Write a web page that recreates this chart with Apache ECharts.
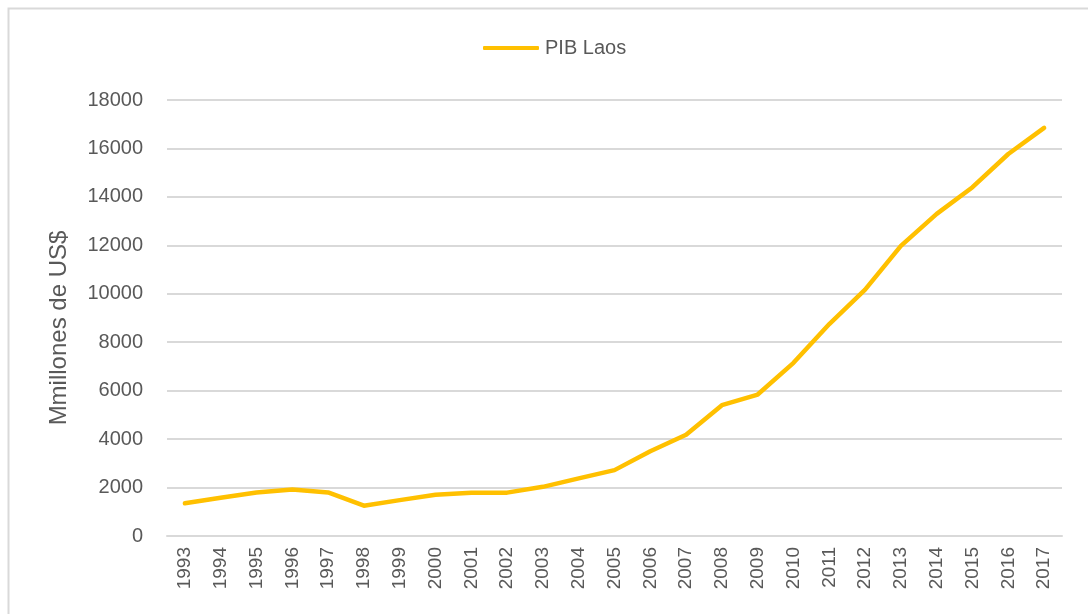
<!DOCTYPE html>
<html>
<head>
<meta charset="utf-8">
<script src="https://cdn.jsdelivr.net/npm/echarts@6/dist/echarts.min.js"></script>
<style>
html,body{margin:0;padding:0;background:#fff;}
#chart{width:1088px;height:614px;}
</style>
</head>
<body>
<div id="chart"></div>
<script>
const years = ['1993','1994','1995','1996','1997','1998','1999','2000','2001','2002','2003','2004','2005','2006','2007','2008','2009','2010','2011','2012','2013','2014','2015','2016','2017'];
const pibLaos = [1350,1580,1800,1920,1800,1250,1480,1700,1790,1790,2030,2380,2720,3500,4180,5400,5840,7150,8750,10170,11980,13300,14400,15770,16850];
const seriesName = 'PIB Laos';
const yAxisName = 'Mmillones de US$';

const FONT = '"Liberation Sans", Arial, sans-serif';
const chart = echarts.init(document.getElementById('chart'), null, {renderer:'canvas'});
chart.setOption({
  backgroundColor:'#ffffff',
  animation:false,
  graphic:[{
    type:'rect', left:6, top:6, silent:true,
    shape:{width:1100,height:700},
    style:{fill:'none', stroke:'#d9d9d9', lineWidth:2}
  }],
  legend:{
    data:[seriesName],
    top:38, left:483, padding:0,
    itemWidth:56, itemHeight:4, itemGap:10,
    icon:'roundRect',
    textStyle:{fontFamily:FONT, fontSize:20, color:'#595959', padding:[0,0,0,1]}
  },
  grid:{left:167, right:26, top:100, bottom:78, containLabel:false},
  xAxis:{
    type:'category', data:years, boundaryGap:true,
    axisLine:{show:true, lineStyle:{color:'#d9d9d9', width:2}},
    axisTick:{show:false},
    axisLabel:{rotate:90, interval:0, margin:11, fontFamily:FONT, fontSize:19, color:'#595959'}
  },
  yAxis:{
    type:'value', min:0, max:18000, interval:2000,
    name:yAxisName, nameLocation:'middle', nameGap:96, nameRotate:90,
    nameTextStyle:{fontFamily:FONT, fontSize:24, color:'#595959', padding:[0,20,0,0]},
    axisLine:{show:false}, axisTick:{show:false},
    axisLabel:{margin:24, fontFamily:FONT, fontSize:20, color:'#595959', formatter:function(v){return String(v);}},
    splitLine:{lineStyle:{color:'#d9d9d9', width:2}}
  },
  series:[{
    name:seriesName, type:'line', data:pibLaos,
    symbol:'none', smooth:false,
    lineStyle:{color:'#FFC000', width:4.5, cap:'round', join:'round'},
    itemStyle:{color:'#FFC000'}
  }]
});
</script>
</body>
</html>
